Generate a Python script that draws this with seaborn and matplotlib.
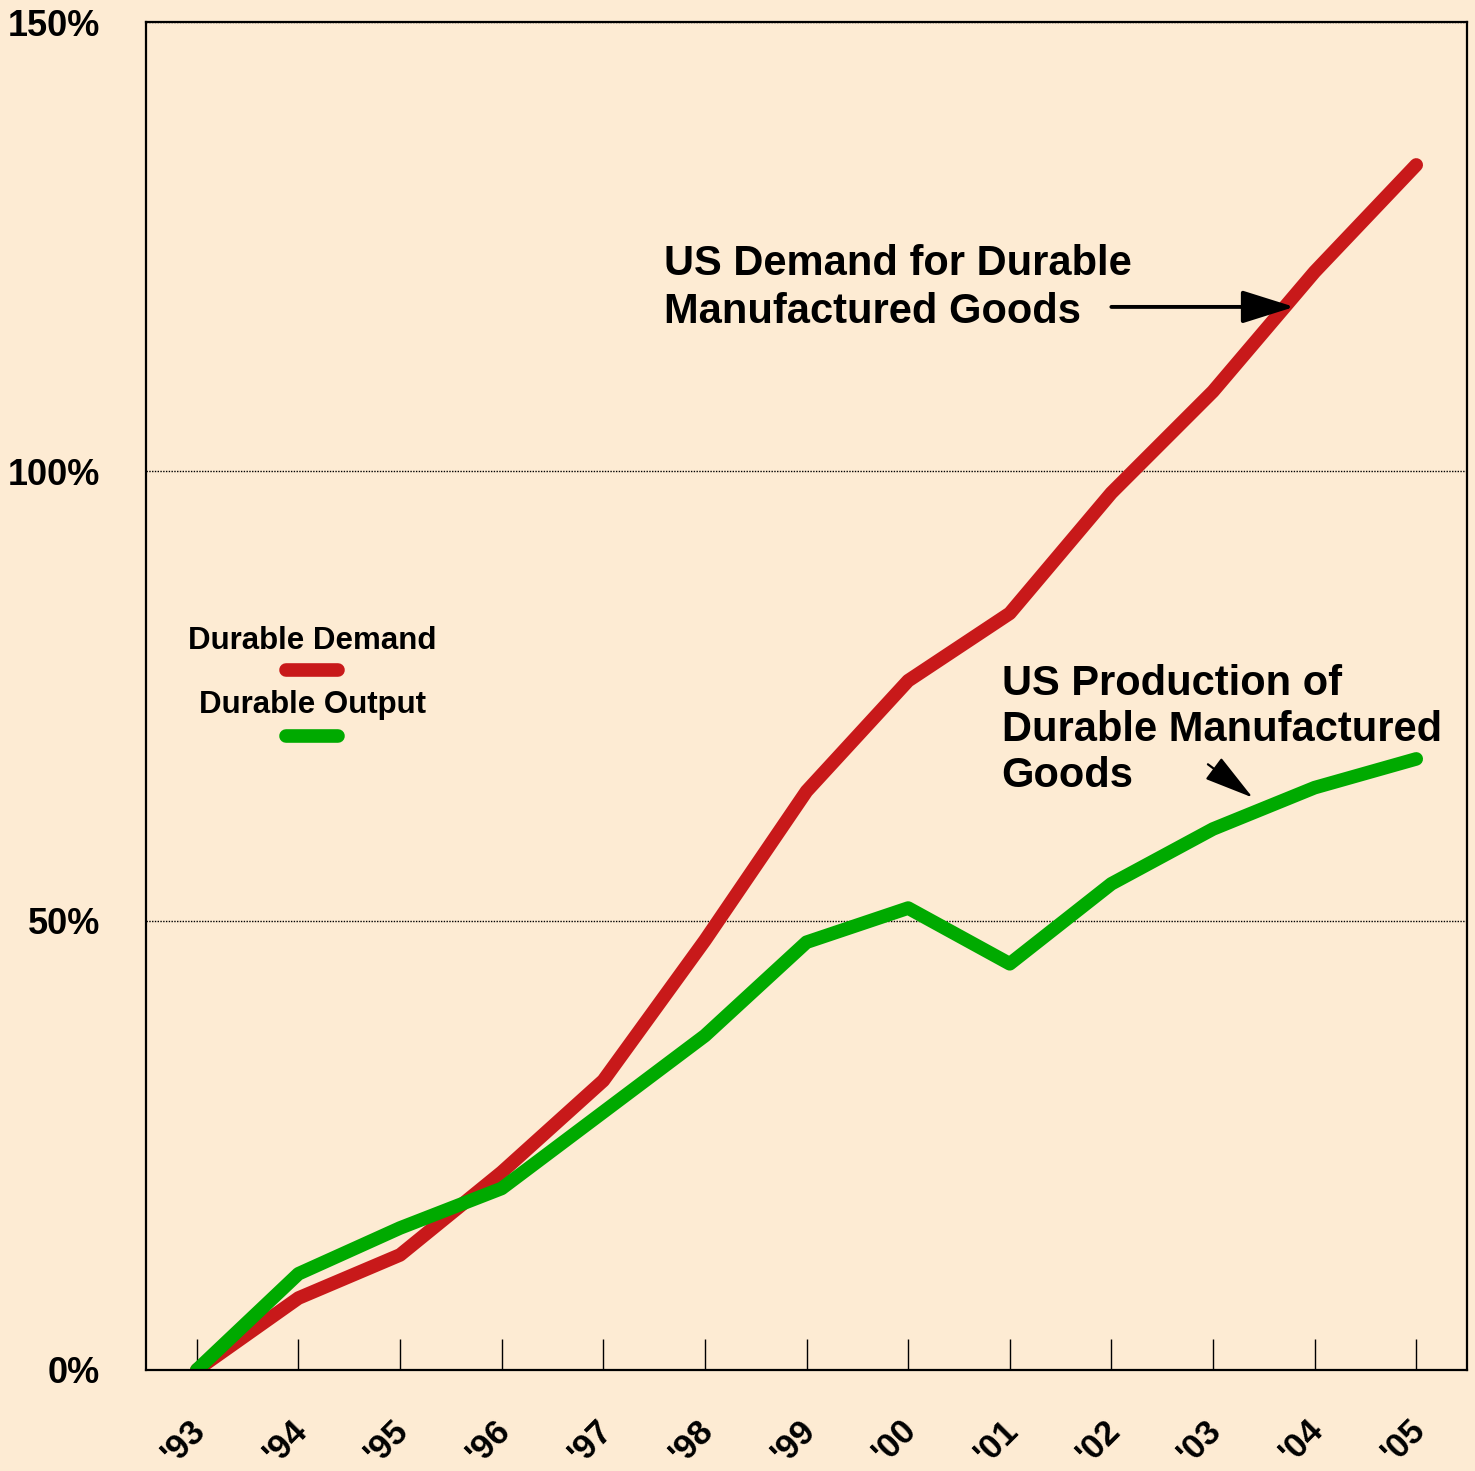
import matplotlib
matplotlib.use("Agg")
import matplotlib.pyplot as plt
from matplotlib.lines import Line2D
import matplotlib.transforms as mtransforms
import seaborn as sns
import pandas as pd

years = ["'93", "'94", "'95", "'96", "'97", "'98", "'99", "'00", "'01", "'02", "'03", "'04", "'05"]
demand = [0, 8.0, 12.8, 22.0, 32.2, 47.8, 64.4, 76.7, 84.2, 97.6, 108.9, 122.2, 134.1]
output = [0, 10.7, 15.8, 20.2, 28.7, 37.2, 47.6, 51.4, 45.2, 54.1, 60.2, 64.8, 68.0]
series_names = ["Durable Demand", "Durable Output"]
yticks = [0, 50, 100, 150]
ytick_labels = ["0%", "50%", "100%", "150%"]

BG = "#FDEBD3"
RED = "#C8191A"
GREEN = "#00AA00"

sns.set_theme(style="white")
plt.rcParams['font.family'] = ['Liberation Sans', 'DejaVu Sans']
plt.rcParams['font.weight'] = 'bold'
plt.rcParams['text.color'] = 'black'
plt.rcParams['xtick.color'] = 'black'
plt.rcParams['ytick.color'] = 'black'
plt.rcParams['xtick.bottom'] = True

df = pd.DataFrame({
    "x": list(range(len(years))) * 2,
    "value": demand + output,
    "series": [series_names[0]] * len(years) + [series_names[1]] * len(years),
})

fig = plt.figure(figsize=(14.75, 14.71), dpi=100, facecolor=BG)
ax = fig.add_axes([0.099, 0.0687, 0.8956, 0.9163])
ax.set_facecolor(BG)

sns.lineplot(data=df, x="x", y="value", hue="series",
             palette={series_names[0]: RED, series_names[1]: GREEN},
             linewidth=9.8, ax=ax, legend=False, sort=False,
             solid_capstyle='round', solid_joinstyle='round')

ax.set_xlim(-0.5, len(years) - 0.5)
ax.set_ylim(0, 150)
ax.set_xticks(range(len(years)))
ax.set_xticklabels(years, rotation=45, ha='center', fontsize=25, fontweight='bold', color='black')
ax.set_yticks(yticks)
ax.set_yticklabels(ytick_labels, fontsize=26, fontweight='bold', color='black')
ax.tick_params(axis='x', bottom=True, direction='in', length=22, width=1, color='black', pad=31)
ax.tick_params(axis='y', length=0, pad=33)
offset = mtransforms.ScaledTranslation(-13 / 100, 0, fig.dpi_scale_trans)
for lab in ax.get_xticklabels():
    lab.set_transform(lab.get_transform() + offset)
ax.set_xlabel("")
ax.set_ylabel("")
ax.yaxis.grid(True, color='black', linestyle=(0, (1, 1)), linewidth=1.0)
ax.set_axisbelow(True)
for s in ax.spines.values():
    s.set_visible(True)
    s.set_color('black')
    s.set_linewidth(1.6)

# custom legend (text above line)
lx0, lx1 = 0.106, 0.145
ax.text(0.126, 0.541, series_names[0], transform=ax.transAxes, ha='center', va='center',
        fontsize=22.5, fontweight='bold')
ax.add_line(Line2D([lx0, lx1], [0.519, 0.519], transform=ax.transAxes, color=RED,
                   linewidth=9.8, solid_capstyle='round'))
ax.text(0.126, 0.4935, series_names[1], transform=ax.transAxes, ha='center', va='center',
        fontsize=22.5, fontweight='bold')
ax.add_line(Line2D([lx0, lx1], [0.4705, 0.4705], transform=ax.transAxes, color=GREEN,
                   linewidth=9.8, solid_capstyle='round'))

ax.text(4.6, 120.4, "US Demand for Durable\nManufactured Goods", ha='left', va='center',
        fontsize=30, fontweight='bold', linespacing=1.25)
ax.annotate("", xy=(10.8, 118.3), xytext=(9.0, 118.3),
            arrowprops=dict(arrowstyle='-|>,head_length=2.7,head_width=0.85', color='black',
                            lw=2.8, shrinkA=0, shrinkB=0))
ax.text(7.92, 71.2, "US Production of\nDurable Manufactured\nGoods", ha='left', va='center',
        fontsize=30, fontweight='bold', linespacing=1.2)
ax.annotate("", xy=(10.39, 63.7), xytext=(9.95, 67.4),
            arrowprops=dict(arrowstyle='-|>,head_length=2.6,head_width=0.7', color='black',
                            lw=1.6, shrinkA=0, shrinkB=0))

fig.savefig("out.png", dpi=100, facecolor=BG)
